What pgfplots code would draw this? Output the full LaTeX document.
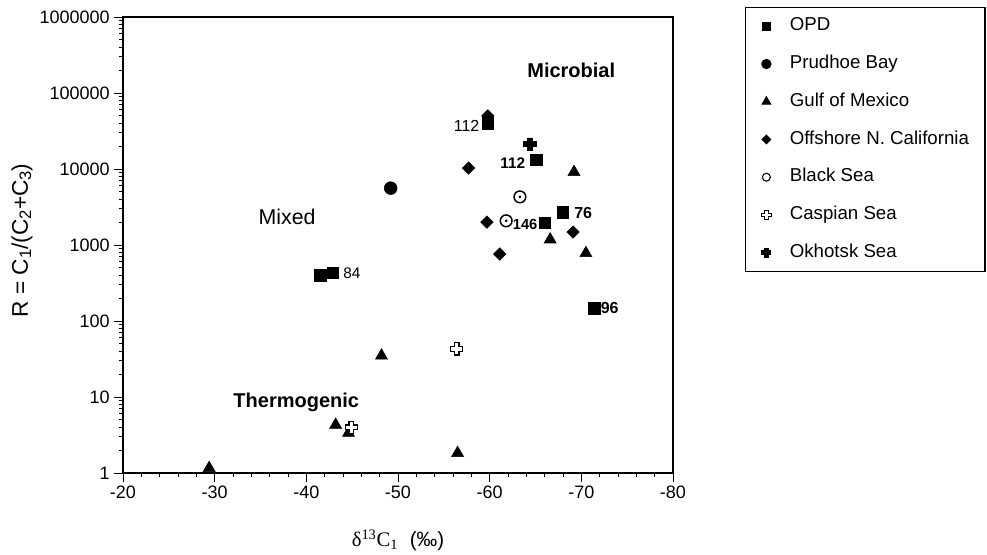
\documentclass[border=0pt]{standalone}
\usepackage{fontspec}
\setmainfont{Liberation Sans}
\newfontfamily\seriffont{Liberation Serif}
\usepackage{pgfplots}
\pgfplotsset{compat=1.18}

% thick plus sign, filled with the current fill colour
\pgfdeclareplotmark{heavyplus}{%
  \pgfpathmoveto{\pgfqpoint{-0.38\pgfplotmarksize}{\pgfplotmarksize}}%
  \pgfpathlineto{\pgfqpoint{0.38\pgfplotmarksize}{\pgfplotmarksize}}%
  \pgfpathlineto{\pgfqpoint{0.38\pgfplotmarksize}{0.38\pgfplotmarksize}}%
  \pgfpathlineto{\pgfqpoint{\pgfplotmarksize}{0.38\pgfplotmarksize}}%
  \pgfpathlineto{\pgfqpoint{\pgfplotmarksize}{-0.38\pgfplotmarksize}}%
  \pgfpathlineto{\pgfqpoint{0.38\pgfplotmarksize}{-0.38\pgfplotmarksize}}%
  \pgfpathlineto{\pgfqpoint{0.38\pgfplotmarksize}{-\pgfplotmarksize}}%
  \pgfpathlineto{\pgfqpoint{-0.38\pgfplotmarksize}{-\pgfplotmarksize}}%
  \pgfpathlineto{\pgfqpoint{-0.38\pgfplotmarksize}{-0.38\pgfplotmarksize}}%
  \pgfpathlineto{\pgfqpoint{-\pgfplotmarksize}{-0.38\pgfplotmarksize}}%
  \pgfpathlineto{\pgfqpoint{-\pgfplotmarksize}{0.38\pgfplotmarksize}}%
  \pgfpathlineto{\pgfqpoint{-0.38\pgfplotmarksize}{0.38\pgfplotmarksize}}%
  \pgfpathclose
  \pgfusepathqfillstroke
}

\newcommand{\sub}[1]{\raisebox{-0.28ex}{\fontsize{12.5}{14}\selectfont #1}}

\pgfplotsset{
  opd/.style={only marks, mark=square*, mark size=4.3pt, black},
  prud/.style={only marks, mark=*, mark size=4.8pt, black},
  gulf/.style={only marks, mark=triangle*, mark size=5.2pt, black},
  offs/.style={only marks, mark=square*, mark size=3.3pt, mark options={rotate=45}, black},
  blck/.style={only marks, mark=o, mark size=4.4pt, mark options={line width=1.1pt}, black},
  casp/.style={only marks, mark=heavyplus, mark size=4.6pt, mark options={fill=white, line width=0.9pt}, black},
  okho/.style={only marks, mark=heavyplus, mark size=4.7pt, mark options={fill=black}, black},
}

\begin{document}
\begin{tikzpicture}
\path[use as bounding box] (-92.25pt,-61.5pt) rectangle (648pt,354.75pt);
\begin{axis}[
    scale only axis,
    width=412.5pt, height=342pt,
    xmin=-80, xmax=-20, x dir=reverse,
    ymode=log, ymin=1, ymax=1000000,
    xtick={-80,-70,-60,-50,-40,-30,-20},
    xticklabels={\mbox{-80},\mbox{-70},\mbox{-60},\mbox{-50},\mbox{-40},\mbox{-30},\mbox{-20}},
    minor x tick num=4,
    log ticks with fixed point,
    /pgf/number format/1000 sep={},
    /pgf/number format/assume math mode=true,
    xtick pos=left, ytick pos=left,
    tick align=outside,
    major tick length=6.5pt, minor tick length=3pt,
    tick style={black, line width=0.7pt},
    axis line style={line width=0.9pt},
    ticklabel style={font=\fontsize{13.5}{15}\selectfont},
    xlabel={{\seriffont δ\textsuperscript{13}C\textsubscript{1}}\ \ (‰)},
    ylabel={R = C\sub{1}/(C\sub{2}+C\sub{3})},
    xlabel style={at={(axis description cs:0.5,-0.147)}, anchor=center, font=\fontsize{15.5}{17}\selectfont},
    ylabel style={at={(axis description cs:-0.1836,0.51)}, anchor=center, font=\fontsize{17}{19}\selectfont},
    legend style={at={(axis description cs:1.1309,1.0219)}, anchor=north west,
        draw=black, line width=0.9pt, font=\fontsize{14}{16}\selectfont,
        inner xsep=12pt, inner ysep=7.5pt, row sep=15.3pt,
        nodes={inner sep=0pt, text height=10pt, text depth=3pt}},
    legend cell align=left,
    legend image code/.code={\draw[#1] plot coordinates {(0pt,0pt)};},
]
% legend entries
\addlegendimage{only marks, mark=square*, mark size=3pt, black}
\addlegendentry{\hspace{14pt}OPD}
\addlegendimage{only marks, mark=*, mark size=3.4pt, black}
\addlegendentry{\hspace{14pt}Prudhoe Bay}
\addlegendimage{only marks, mark=triangle*, mark size=3.6pt, black}
\addlegendentry{\hspace{14pt}Gulf of Mexico}
\addlegendimage{only marks, mark=square*, mark size=2.2pt, mark options={rotate=45}, black}
\addlegendentry{\hspace{14pt}Offshore N. California}
\addlegendimage{only marks, mark=o, mark size=3pt, mark options={line width=0.8pt}, black}
\addlegendentry{\hspace{14pt}Black Sea}
\addlegendimage{only marks, mark=heavyplus, mark size=3.6pt, mark options={fill=white, line width=0.8pt}, black}
\addlegendentry{\hspace{14pt}Caspian Sea}
\addlegendimage{only marks, mark=heavyplus, mark size=3.3pt, mark options={fill=black}, black}
\addlegendentry{\hspace{14pt}Okhotsk Sea}

% OPD
\addplot[opd, forget plot] coordinates {
    (-59.8,40000) (-65.1,13200) (-68.0,2700) (-66.0,1950)
    (-41.5,400) (-42.9,430) (-71.4,148)
};
% Prudhoe Bay
\addplot[prud, forget plot] coordinates {(-49.2,5600)};
% Gulf of Mexico
\addplot[gulf, forget plot] coordinates {
    (-69.2,9100) (-66.6,1180) (-70.5,780) (-48.2,35)
    (-43.2,4.3) (-44.6,3.36) (-56.5,1.83) (-29.4,1.16)
};
% Offshore N. California
\addplot[offs, forget plot] coordinates {
    (-59.8,50000) (-57.7,10300) (-59.7,2000) (-69.1,1480) (-61.1,760)
};
% Black Sea
\addplot[blck, forget plot] coordinates {(-63.3,4300) (-61.8,2080)};
\addplot[only marks, mark=*, mark size=0.8pt, black, forget plot] coordinates {(-63.3,4300) (-61.8,2080)};
% Caspian Sea
\addplot[casp, forget plot] coordinates {(-56.4,43) (-44.9,4.0)};
% Okhotsk Sea
\addplot[okho, forget plot] coordinates {(-64.4,21300)};

% annotations
\node[anchor=east, inner sep=0pt, font=\fontsize{12}{14}\selectfont] at (axis cs:-58.9,36800) {112};
\node[anchor=east, inner sep=0pt, font=\bfseries\fontsize{11.5}{13}\selectfont] at (axis cs:-63.9,12000) {112};
\node[anchor=west, inner sep=0pt, font=\bfseries\fontsize{12}{14}\selectfont] at (axis cs:-69.2,2640) {76};
\node[anchor=west, inner sep=0pt, font=\bfseries\fontsize{11}{13}\selectfont] at (axis cs:-62.5,1890) {146};
\node[anchor=west, inner sep=0pt, font=\fontsize{11.5}{13}\selectfont] at (axis cs:-44.0,426) {84};
\node[anchor=west, inner sep=0pt, font=\bfseries\fontsize{12}{14}\selectfont] at (axis cs:-72.1,148) {96};
\node[font=\bfseries\fontsize{15}{17}\selectfont] at (axis cs:-68.9,200000) {Microbial};
\node[font=\fontsize{16}{18}\selectfont] at (axis cs:-37.9,2340) {Mixed};
\node[font=\bfseries\fontsize{15}{17}\selectfont] at (axis cs:-38.9,8.6) {Thermogenic};
\end{axis}
\end{tikzpicture}
\end{document}
